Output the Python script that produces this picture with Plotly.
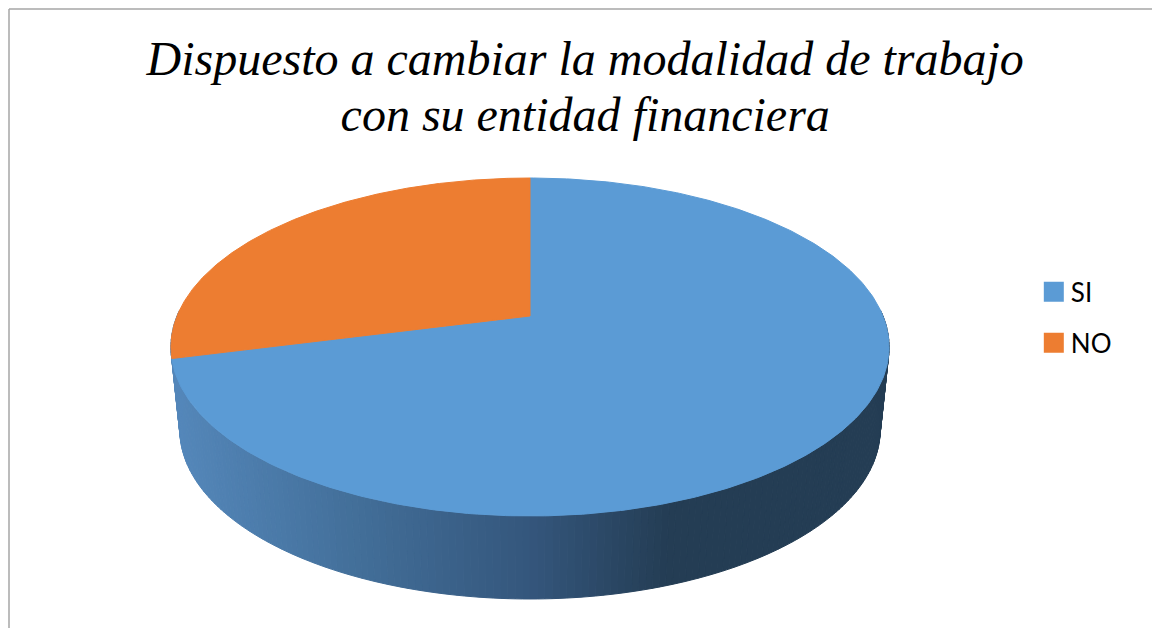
import numpy as np
import plotly.graph_objects as go

categories = ["SI", "NO"]
values = [71, 29]
colors = ["#5B9BD5", "#ED7D31"]
title_text = "Dispuesto a cambiar la modalidad de trabajo<br>con su entidad financiera"

# Projection of the tilted disc on to the page (pixel-like axis units)
CX, K, A, B, C = 530.0, 353.0, 316.0, -105.35, 0.1834
DEPTH, BOTTOM_SCALE = 83.0, 0.975


def project(theta, scale=1.0, dy=0.0):
    """theta: clockwise angle from the top, radians."""
    u, v = np.sin(theta), np.cos(theta)
    w = 1 + C * v
    return CX + scale * K * u / w, (A + B * v) / w + dy


def mix(x):
    stops_x = [172, 360, 530, 668, 889]
    r = np.interp(x, stops_x, [84, 66, 52, 36, 36])
    g = np.interp(x, stops_x, [135, 110, 86, 61, 61])
    b = np.interp(x, stops_x, [186, 152, 124, 84, 84])
    return f"rgb({r:.0f},{g:.0f},{b:.0f})"


fig = go.Figure()

# Side wall: narrow strips along the front of the rim, shaded left to right
edges = np.radians(np.linspace(88, 272, 185))
for t0, t1 in zip(edges[:-1], edges[1:]):
    x0, y0 = project(t0)
    x1, y1 = project(t1)
    x2, y2 = project(t1, BOTTOM_SCALE, DEPTH)
    x3, y3 = project(t0, BOTTOM_SCALE, DEPTH)
    col = mix((x0 + x1) / 2)
    fig.add_trace(go.Scatter(x=[x0, x1, x2, x3, x0], y=[y0, y1, y2, y3, y0],
                             mode="lines", fill="toself", fillcolor=col,
                             line=dict(color=col, width=1), showlegend=False,
                             hoverinfo="skip"))

# Top face: one wedge per category
total = sum(values)
start = 0.0
for name, val, col in zip(categories, values, colors):
    end = start + val / total * 2 * np.pi
    th = np.linspace(start, end, 400)
    rx, ry = project(th)
    fig.add_trace(go.Scatter(x=np.r_[CX, rx, CX], y=np.r_[A, ry, A],
                             mode="lines", fill="toself", fillcolor=col,
                             line=dict(color=col, width=1), showlegend=False,
                             name=name))
    start = end

# Legend
for name, col in zip(categories, colors):
    fig.add_trace(go.Scatter(x=[None], y=[None], mode="markers", name=name,
                             legendgroup=name,
                             marker=dict(symbol="square", size=16, color=col)))

frame = "#A6A6A6"
fig.update_layout(
    width=1152, height=628, autosize=False,
    margin=dict(l=0, r=0, t=0, b=0),
    paper_bgcolor="white", plot_bgcolor="white",
    title=dict(text=title_text, x=0.508, xanchor="center", xref="paper",
               y=0.881, yanchor="bottom", yref="container",
               font=dict(family="Liberation Serif", size=48, color="black",
                         style="italic")),
    xaxis=dict(range=[0, 1152], visible=False, fixedrange=True),
    yaxis=dict(range=[628, 0], visible=False, fixedrange=True),
    legend=dict(x=0.8948, y=0.5725, xanchor="left", yanchor="top",
                font=dict(family="Lato", size=26, color="black"),
                tracegroupgap=14, itemsizing="trace"),
    shapes=[dict(type="line", x0=9, x1=9, y0=9, y1=628, xref="x", yref="y",
                 line=dict(color=frame, width=1.5)),
            dict(type="line", x0=9, x1=1152, y0=9, y1=9, xref="x", yref="y",
                 line=dict(color=frame, width=1.5))],
)

post = """
document.body.style.margin = '0';
document.querySelectorAll('.gtitle tspan.line').forEach(function(t){
  var d = t.getAttribute('dy');
  if (d && parseFloat(d) > 0) { t.setAttribute('dy','1.167em'); }
});
document.querySelectorAll('.legend .legendpoints path').forEach(function(p){
  var tr = p.getAttribute('transform') || '';
  p.setAttribute('transform', tr + ' translate(3,0) scale(1.25)');
});
"""
fig.write_html("out.html", post_script=post, config={"displayModeBar": False})
